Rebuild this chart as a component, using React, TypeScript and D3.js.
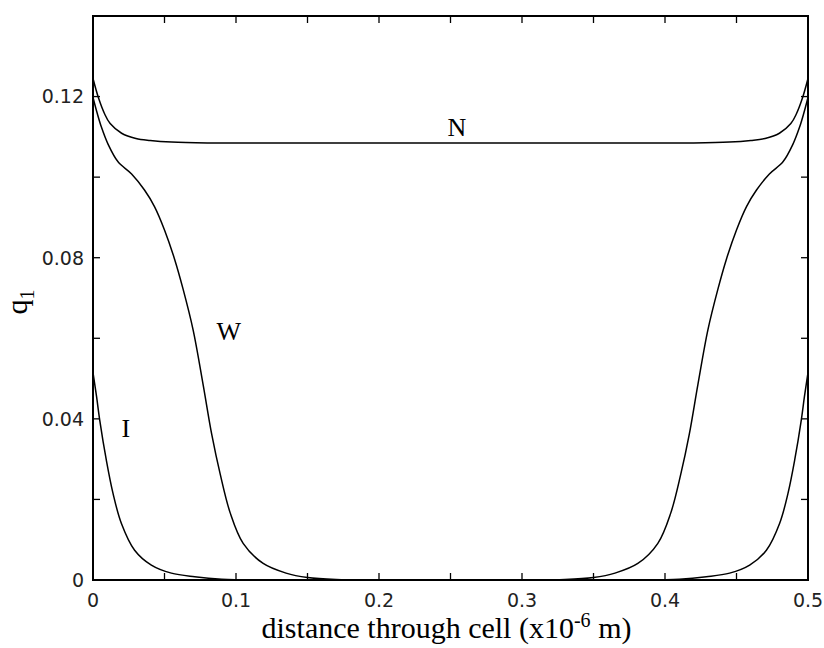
import React from "react";
import * as d3 from "d3";

// ---- data ----
const xTicks = [0, 0.1, 0.2, 0.3, 0.4, 0.5];
const xMinorTicks = [0, 0.05, 0.1, 0.15, 0.2, 0.25, 0.3, 0.35, 0.4, 0.45, 0.5];
const yTicks = [0, 0.04, 0.08, 0.12];
const yMinorTicks = [0, 0.02, 0.04, 0.06, 0.08, 0.1, 0.12, 0.14];
const yTickLabels = ["0", "0.04", "0.08", "0.12"];
const xTickLabels = ["0", "0.1", "0.2", "0.3", "0.4", "0.5"];

const xN = [0, 0.004, 0.008, 0.012, 0.02, 0.03, 0.04, 0.055, 0.08, 0.25, 0.42, 0.445, 0.46, 0.47, 0.48, 0.488, 0.492, 0.496, 0.5];
const qN = [0.1245, 0.1195, 0.1158, 0.1133, 0.1109, 0.1096, 0.1091, 0.1087, 0.1085, 0.1085, 0.1085, 0.1087, 0.1091, 0.1096, 0.1109, 0.1133, 0.1158, 0.1195, 0.1245];

const xW = [0, 0.003, 0.006, 0.0105, 0.0175, 0.027, 0.036, 0.043, 0.05, 0.057, 0.063, 0.07, 0.077, 0.083, 0.089, 0.096, 0.105, 0.119, 0.135, 0.15, 0.17, 0.2,
  0.3, 0.33, 0.35, 0.365, 0.381, 0.395, 0.404, 0.411, 0.417, 0.423, 0.43, 0.437, 0.443, 0.45, 0.457, 0.464, 0.473, 0.4825, 0.4895, 0.494, 0.497, 0.5];
const qW = [0.1198, 0.1158, 0.1123, 0.1082, 0.1038, 0.1008, 0.0968, 0.0927, 0.0869, 0.0797, 0.0722, 0.0621, 0.0485, 0.0362, 0.0262, 0.0166, 0.0091, 0.0041, 0.0017, 0.0006, 0.0001, 0,
  0, 0.0001, 0.0006, 0.0017, 0.0041, 0.0091, 0.0166, 0.0262, 0.0362, 0.0485, 0.0621, 0.0722, 0.0797, 0.0869, 0.0927, 0.0968, 0.1008, 0.1038, 0.1082, 0.1123, 0.1158, 0.1198];

const xI = [0, 0.0025, 0.0047, 0.0093, 0.014, 0.0198, 0.0291, 0.0408, 0.0548, 0.0711, 0.09, 0.12, 0.25,
  0.38, 0.41, 0.4289, 0.4452, 0.4592, 0.4709, 0.4802, 0.486, 0.4907, 0.4953, 0.4975, 0.5];
const qI = [0.0515, 0.0455, 0.0397, 0.0298, 0.0215, 0.0141, 0.0074, 0.0037, 0.0017, 0.0008, 0.0002, 0, 0,
  0, 0.0002, 0.0008, 0.0017, 0.0037, 0.0074, 0.0141, 0.0215, 0.0298, 0.0397, 0.0455, 0.0515];

const seriesLabels = ["N", "W", "I"];
const labelX = [0.2545, 0.095, 0.023];
const labelY = [0.1102, 0.0595, 0.0355];

// ---- layout ----
const W = 824, H = 648;
const m = { left: 93, top: 16, right: 16, bottom: 68 };
const iw = W - m.left - m.right;
const ih = H - m.top - m.bottom;

export default function App() {
  const x = d3.scaleLinear().domain([0, 0.5]).range([0, iw]);
  const y = d3.scaleLinear().domain([0, 0.14]).range([ih, 0]);
  const line = d3
    .line<[number, number]>()
    .x((d) => x(d[0]))
    .y((d) => y(d[1]))
    .curve(d3.curveCatmullRom.alpha(0.5));
  const series = [
    d3.zip(xN, qN) as [number, number][],
    d3.zip(xW, qW) as [number, number][],
    d3.zip(xI, qI) as [number, number][],
  ];
  const tl = 7;
  const tickFont = "'DejaVu Sans', sans-serif";
  const serif = "'Liberation Serif', 'Times New Roman', serif";
  return (
    <svg width={W} height={H} style={{ position: "absolute", left: 0, top: 0, background: "#fff" }}>
      <defs>
        <clipPath id="plotclip">
          <rect x={0} y={0} width={iw} height={ih} />
        </clipPath>
      </defs>
      <g transform={`translate(${m.left},${m.top})`}>
        <g clipPath="url(#plotclip)">
          {series.map((s, i) => (
            <path key={i} d={line(s) || ""} fill="none" stroke="#000" strokeWidth={1.5} />
          ))}
        </g>
        {/* ticks */}
        {xMinorTicks.map((t, i) => (
          <g key={"xt" + i} stroke="#000" strokeWidth={1.3}>
            <line x1={x(t)} x2={x(t)} y1={ih} y2={ih - tl} />
            <line x1={x(t)} x2={x(t)} y1={0} y2={tl} />
          </g>
        ))}
        {yMinorTicks.map((t, i) => (
          <g key={"yt" + i} stroke="#000" strokeWidth={1.3}>
            <line x1={0} x2={tl} y1={y(t)} y2={y(t)} />
            <line x1={iw} x2={iw - tl} y1={y(t)} y2={y(t)} />
          </g>
        ))}
        <rect x={0} y={0} width={iw} height={ih} fill="none" stroke="#000" strokeWidth={2} />
        {/* tick labels */}
        {xTicks.map((t, i) => (
          <text key={"xl" + i} x={x(t)} y={ih + 27} textAnchor="middle" fontFamily={tickFont} fontSize={19} fill="#222">
            {xTickLabels[i]}
          </text>
        ))}
        {yTicks.map((t, i) => (
          <text key={"yl" + i} x={-9} y={y(t)} dy="0.36em" textAnchor="end" fontFamily={tickFont} fontSize={19} fill="#222">
            {yTickLabels[i]}
          </text>
        ))}
        {/* series labels */}
        {seriesLabels.map((s, i) => (
          <text key={"sl" + i} x={x(labelX[i])} y={y(labelY[i])} textAnchor="middle" fontFamily={serif} fontSize={26} fill="#000">
            {s}
          </text>
        ))}
        {/* axis titles */}
        <text x={iw / 2 - 4} y={ih + 58} textAnchor="middle" fontFamily={serif} fontSize={30} fill="#000">
          distance through cell (x10
          <tspan dy={-11} fontSize={20}>-6</tspan>
          <tspan dy={11}> m)</tspan>
        </text>
        <text transform={`translate(${-66},${ih / 2 + 4}) rotate(-90)`} textAnchor="middle" fontFamily={serif} fontSize={30} fill="#000">
          q<tspan dy={7} fontSize={20}>1</tspan>
        </text>
      </g>
    </svg>
  );
}
